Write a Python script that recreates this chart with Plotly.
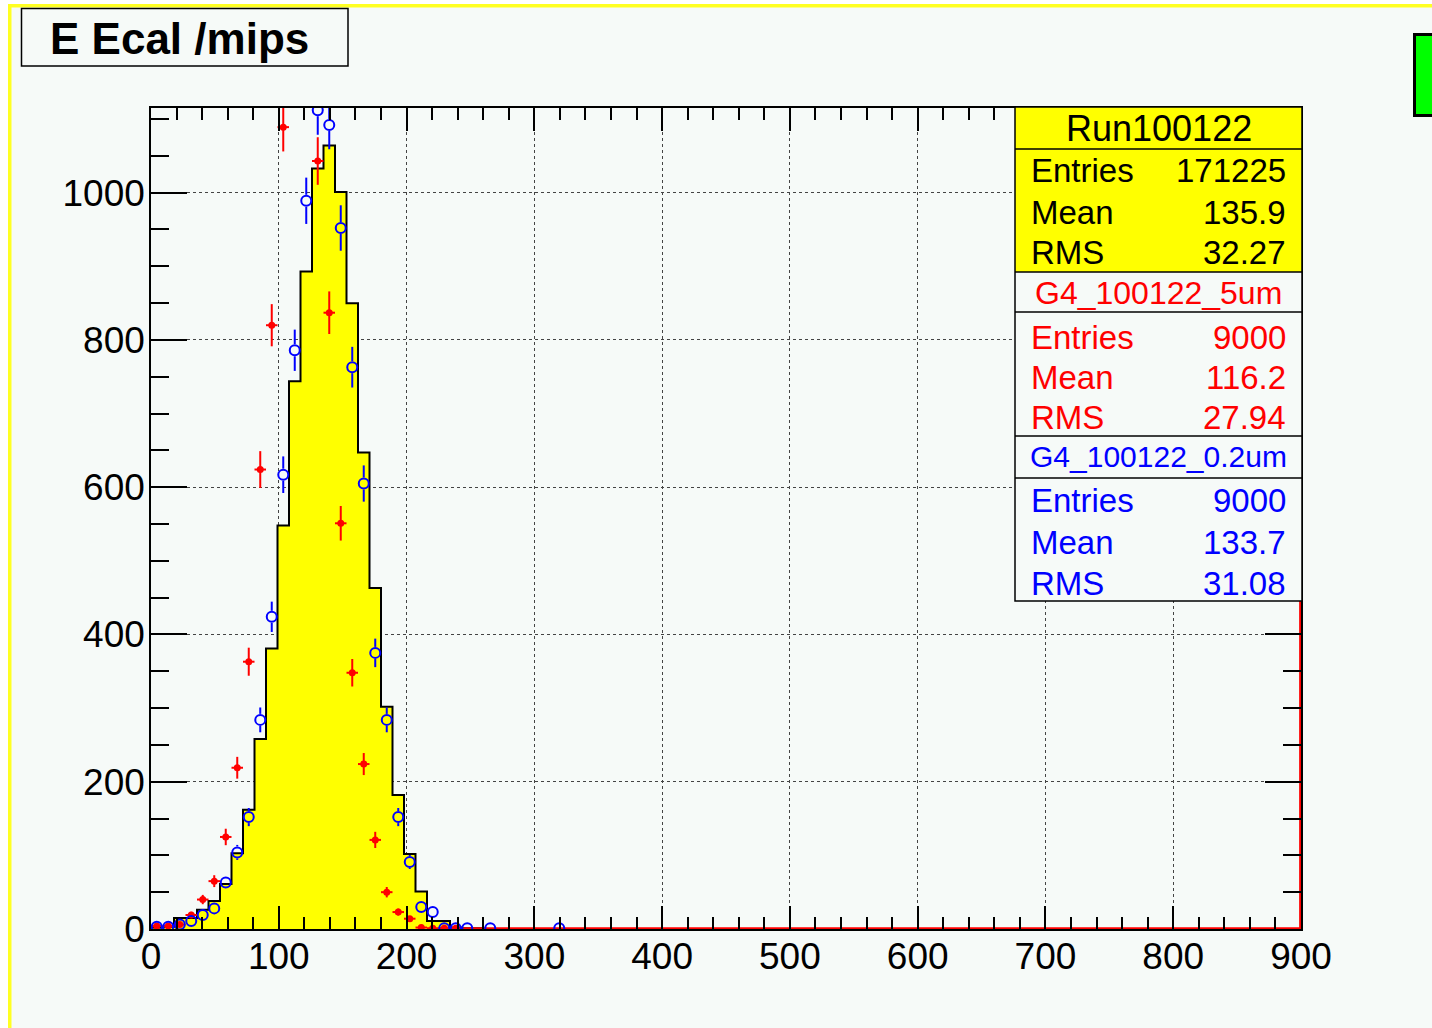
import math
import plotly.graph_objects as go

# ---- histogram binning (100 bins over 0..900 mips) ----
BIN_WIDTH = 9
X_MIN, X_MAX = 0, 900
Y_MAX = 1115

# Run100122 data histogram (bin contents, starting at bin 0)
data_counts = [2, 3, 15, 15, 26, 38, 61, 103, 162, 258,
               381, 548, 744, 893, 1033, 1064, 1001, 850, 647, 463,
               302, 182, 102, 51, 11, 11, 2, 1, 1]

# G4_100122_5um simulation (bin contents, starting at bin 0)
sim5_counts = [4, 4, 6, 19, 40, 65, 125, 219, 363, 624,
               820, 1089, 1230, 1176, 1043, 837, 551, 348, 224, 121,
               50, 23, 14, 2, 1, 1, 1]

# G4_100122_0.2um simulation (bin contents, starting at bin 0)
sim02_counts = [3, 3, 6, 11, 19, 28, 63, 104, 152, 284,
                424, 617, 786, 989, 1112, 1092, 952, 763, 605, 375,
                284, 152, 91, 30, 23, 1, 1, 1, 0, 1,
                0, 0, 0, 0, 0, 1]

x_ticks = [0, 100, 200, 300, 400, 500, 600, 700, 800, 900]
y_ticks = [0, 200, 400, 600, 800, 1000]

title_text = "E Ecal /mips"
stats_blocks = [
    ("Run100122", "black", [("Entries", "171225"), ("Mean", "135.9"), ("RMS", "32.27")]),
    ("G4_100122_5um", "#ff0000", [("Entries", "9000"), ("Mean", "116.2"), ("RMS", "27.94")]),
    ("G4_100122_0.2um", "#0000ff", [("Entries", "9000"), ("Mean", "133.7"), ("RMS", "31.08")]),
]

# ---- canvas geometry (pixels) ----
W, H = 1432, 1028
PL, PR, PT, PB = 151, 1301, 108, 929     # plot frame edges
BG = "#f6faf8"
FONT = "Liberation Sans"
OPEN_MARKER_RADIUS_PX = 6


def fx(x):
    return (x - PL) / (PR - PL)


def fy(y):
    return (PB - y) / (PB - PT)


def edges(n):
    return [X_MIN + BIN_WIDTH * i for i in range(n + 1)]


def centers_nonzero(counts):
    xs, ys = [], []
    for i, c in enumerate(counts):
        if c > 0:
            xs.append(X_MIN + BIN_WIDTH * (i + 0.5))
            ys.append(c)
    return xs, ys


def open_marker_errors(xs, ys):
    """Error-bar segments that stop at the rim of an open marker."""
    gx = OPEN_MARKER_RADIUS_PX * (X_MAX - X_MIN) / (PR - PL)
    gy = OPEN_MARKER_RADIUS_PX * Y_MAX / (PB - PT)
    sx, sy = [], []
    half = BIN_WIDTH / 2
    for x, y in zip(xs, ys):
        err = math.sqrt(y)
        if err > gy:
            sx += [x, x, None, x, x, None]
            sy += [y - err, y - gy, None, y + gy, y + err, None]
        if half > gx:
            sx += [x - half, x - gx, None, x + gx, x + half, None]
            sy += [y, y, None, y, y, None]
    return sx, sy


fig = go.Figure()

# filled data histogram drawn as a step outline
e = edges(len(data_counts))
fig.add_trace(go.Scatter(
    x=e, y=data_counts + [data_counts[-1]],
    mode="lines", line=dict(shape="hv", color="black", width=2),
    fill="tozeroy", fillcolor="#ffff00", hoverinfo="skip", showlegend=False))

# empty bins of the 5um histogram along the baseline and its last edge
tail_start = BIN_WIDTH * (len(sim5_counts) - 2)
fig.add_trace(go.Scatter(
    x=[tail_start, X_MAX - 0.6, X_MAX - 0.6], y=[0.8, 0.8, Y_MAX],
    mode="lines", line=dict(color="#ff0000", width=2.2),
    hoverinfo="skip", showlegend=False))

# 5um simulation: filled markers with error bars
xr, yr = centers_nonzero(sim5_counts)
fig.add_trace(go.Scatter(
    x=xr, y=yr, mode="markers",
    marker=dict(symbol="circle", size=7, color="#ff0000"),
    error_y=dict(type="sqrt", color="#ff0000", thickness=2, width=0),
    error_x=dict(type="constant", value=BIN_WIDTH / 2, color="#ff0000", thickness=2, width=0),
    showlegend=False))

# 0.2um simulation: open markers, error bars kept outside the marker
xb, yb = centers_nonzero(sim02_counts)
ex, ey = open_marker_errors(xb, yb)
fig.add_trace(go.Scatter(
    x=ex, y=ey, mode="lines", line=dict(color="#0000ff", width=2),
    hoverinfo="skip", showlegend=False))
fig.add_trace(go.Scatter(
    x=xb, y=yb, mode="markers",
    marker=dict(symbol="circle-open", size=10, color="#0000ff", line=dict(width=2, color="#0000ff")),
    showlegend=False))

axis_common = dict(
    ticks="inside", tickwidth=1.5, tickcolor="black",
    showline=True, linecolor="black", linewidth=1.5, mirror="ticks",
    showgrid=True, gridcolor="#444444", griddash="dot", gridwidth=1.3,
    zeroline=False, tickfont=dict(family=FONT, size=37, color="black"),
)
fig.update_xaxes(range=[X_MIN, X_MAX], tickmode="array", tickvals=x_ticks,
                 ticktext=[str(v) for v in x_ticks], ticklen=23,
                 ticklabelstandoff=-6,
                 minor=dict(dtick=20, tick0=0, ticks="inside", ticklen=12,
                            tickwidth=1.5, tickcolor="black", showgrid=False),
                 **axis_common)
fig.update_yaxes(range=[0, Y_MAX], tickmode="array", tickvals=y_ticks,
                 ticktext=[str(v) for v in y_ticks], ticklen=36,
                 ticklabelstandoff=-3,
                 minor=dict(dtick=50, tick0=0, ticks="inside", ticklen=18,
                            tickwidth=1.5, tickcolor="black", showgrid=False),
                 **axis_common)

shapes = []
annotations = []

# canvas border: white outer strip, yellow highlight on top and left
shapes.append(dict(type="rect", xref="paper", yref="paper", layer="below",
                   x0=fx(0), x1=fx(8), y0=fy(0), y1=fy(H + 5),
                   fillcolor="white", line=dict(width=0)))
shapes.append(dict(type="rect", xref="paper", yref="paper", layer="below",
                   x0=fx(0), x1=fx(W + 5), y0=fy(0), y1=fy(4),
                   fillcolor="white", line=dict(width=0)))
shapes.append(dict(type="rect", xref="paper", yref="paper", layer="below",
                   x0=fx(8), x1=fx(W + 5), y0=fy(4), y1=fy(7.5),
                   fillcolor="#ffff22", line=dict(width=0)))
shapes.append(dict(type="rect", xref="paper", yref="paper", layer="below",
                   x0=fx(8), x1=fx(11.5), y0=fy(4), y1=fy(H + 5),
                   fillcolor="#ffff22", line=dict(width=0)))

# title box
shapes.append(dict(type="rect", xref="paper", yref="paper", layer="above",
                   x0=fx(21.5), x1=fx(348), y0=fy(8.5), y1=fy(66),
                   fillcolor=BG, line=dict(color="black", width=1.5)))
annotations.append(dict(xref="paper", yref="paper", x=fx(179), y=fy(39),
                        xanchor="center", yanchor="middle", showarrow=False,
                        text="<b>" + title_text + "</b>",
                        font=dict(family=FONT, size=44, color="black")))

# green marker box at the top right
shapes.append(dict(type="rect", xref="paper", yref="paper", layer="above",
                   x0=fx(1414.5), x1=fx(1445), y0=fy(34.5), y1=fy(115.5),
                   fillcolor="#00ff00", line=dict(color="black", width=3)))

# statistics box
SX0, SX1 = 1015, 1302
row_lines = [107, 149, 272, 312, 436, 478, 601]
shapes.append(dict(type="rect", xref="paper", yref="paper", layer="above",
                   x0=fx(SX0), x1=fx(SX1), y0=fy(row_lines[0]), y1=fy(row_lines[2]),
                   fillcolor="#ffff00", line=dict(width=0)))
shapes.append(dict(type="rect", xref="paper", yref="paper", layer="above",
                   x0=fx(SX0), x1=fx(SX1), y0=fy(row_lines[2]), y1=fy(row_lines[6]),
                   fillcolor=BG, line=dict(width=0)))
shapes.append(dict(type="rect", xref="paper", yref="paper", layer="above",
                   x0=fx(SX0), x1=fx(SX1), y0=fy(row_lines[0]), y1=fy(row_lines[6]),
                   fillcolor="rgba(0,0,0,0)", line=dict(color="black", width=1.5)))
for yl in row_lines[1:-1]:
    shapes.append(dict(type="line", xref="paper", yref="paper", layer="above",
                       x0=fx(SX0), x1=fx(SX1), y0=fy(yl), y1=fy(yl),
                       line=dict(color="black", width=1.5)))

header_y = [129, 293, 456]
row_y = [[170, 212, 253], [337, 378, 418], [500, 542, 583]]
header_size = [36, 32, 30]
for (name, color, rows), hy, ry, hs in zip(stats_blocks, header_y, row_y, header_size):
    annotations.append(dict(xref="paper", yref="paper", x=fx((SX0 + SX1) / 2), y=fy(hy),
                            xanchor="center", yanchor="middle", showarrow=False,
                            text=name, font=dict(family=FONT, size=hs, color=color)))
    for (label, value), yy in zip(rows, ry):
        annotations.append(dict(xref="paper", yref="paper", x=fx(1029), y=fy(yy),
                                xanchor="left", yanchor="middle", showarrow=False,
                                text=label, font=dict(family=FONT, size=33, color=color)))
        annotations.append(dict(xref="paper", yref="paper", x=fx(1288), y=fy(yy),
                                xanchor="right", yanchor="middle", showarrow=False,
                                text=value, font=dict(family=FONT, size=33, color=color)))

fig.update_layout(
    width=W, height=H,
    margin=dict(l=PL, r=W - PR, t=PT, b=H - PB, autoexpand=False),
    paper_bgcolor=BG, plot_bgcolor=BG,
    shapes=shapes, annotations=annotations,
    showlegend=False,
)

fig.write_html("out.html")
